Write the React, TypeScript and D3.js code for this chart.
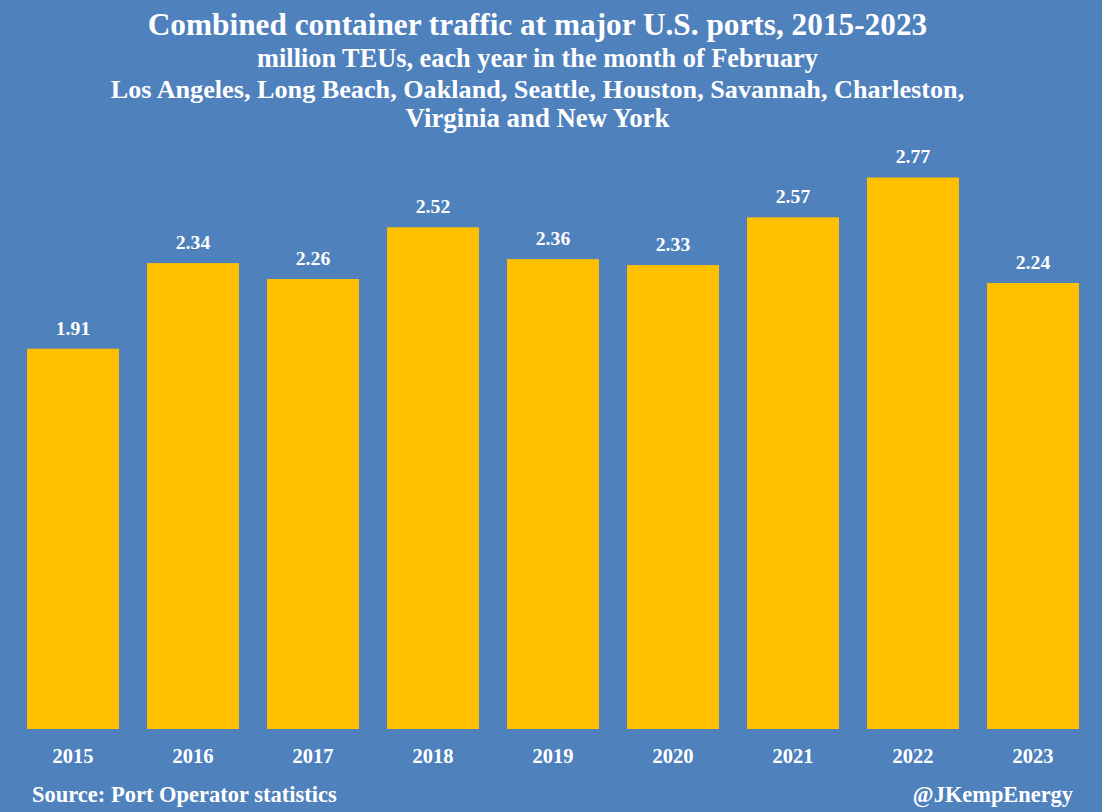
import React from "react";
import * as d3 from "d3";

const years = ["2015", "2016", "2017", "2018", "2019", "2020", "2021", "2022", "2023"];
const values = [1.91, 2.34, 2.26, 2.52, 2.36, 2.33, 2.57, 2.77, 2.24];
const titleLines = [
  "Combined container traffic at major U.S. ports, 2015-2023",
  "million TEUs, each year in the month of February",
  "Los Angeles, Long Beach, Oakland, Seattle, Houston, Savannah, Charleston,",
  "Virginia and New York",
];
const sourceText = "Source: Port Operator statistics";
const creditText = "@JKempEnergy";

const W = 1102;
const H = 812;
const BG = "#4F81BD";
const BAR = "#FFC000";
const FONT = "'Liberation Serif', 'Times New Roman', serif";

export default function App() {
  const x = d3.scaleBand<string>().domain(years).range([13, 1093]).paddingInner(28 / 120).paddingOuter(14 / 120);
  const y = d3.scaleLinear().domain([0, 3]).range([729, 729 - 3 * 199.1]);
  const cx = 537.5;
  return (
    <svg width={W} height={H} style={{ position: "fixed", left: 0, top: 0, display: "block" }} fontFamily={FONT}>
      <rect x={0} y={0} width={W} height={H} fill={BG} />
      <text x={cx} y={35} textAnchor="middle" fill="#fff" fontWeight="bold" fontSize={31.3}>{titleLines[0]}</text>
      <text x={cx} y={67} textAnchor="middle" fill="#fff" fontWeight="bold" fontSize={26.3}>{titleLines[1]}</text>
      <text x={cx} y={98} textAnchor="middle" fill="#fff" fontWeight="bold" fontSize={26.2}>{titleLines[2]}</text>
      <text x={cx} y={127} textAnchor="middle" fill="#fff" fontWeight="bold" fontSize={26.8}>{titleLines[3]}</text>
      {years.map((yr, i) => (
        <g key={yr}>
          <rect x={x(yr)} y={y(values[i])} width={x.bandwidth()} height={y(0) - y(values[i])} fill={BAR} />
          <text x={(x(yr) as number) + x.bandwidth() / 2} y={y(values[i]) - 14} textAnchor="middle" fill="#fff" fontWeight="bold" fontSize={19.7}>
            {values[i].toFixed(2)}
          </text>
          <text x={(x(yr) as number) + x.bandwidth() / 2} y={763} textAnchor="middle" fill="#fff" fontWeight="bold" fontSize={20.5}>
            {yr}
          </text>
        </g>
      ))}
      <text x={32} y={802} fill="#fff" fontWeight="bold" fontSize={22.5}>{sourceText}</text>
      <text x={1073} y={802} textAnchor="end" fill="#fff" fontWeight="bold" fontSize={22.4}>{creditText}</text>
    </svg>
  );
}
